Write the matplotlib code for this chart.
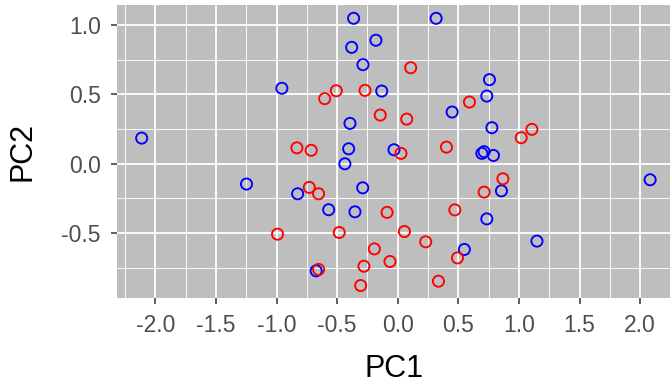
import matplotlib
matplotlib.use("Agg")
import matplotlib.pyplot as plt
from matplotlib.ticker import MultipleLocator, FuncFormatter

# Scores des deux groupes sur les deux premières composantes
pc1_bleu = [-0.364, -0.180, -0.380, -0.287, -0.956, -0.132, -0.394, -2.113, -0.405, -0.436,
            0.317, 0.757, 0.735, 0.449, 0.777, -0.031, 0.694, 0.713, 0.790, 0.856,
            2.083, 0.735, 1.149, 0.550, -1.248, -0.826, -0.289, -0.570, -0.353, -0.673]
pc2_bleu = [1.048, 0.890, 0.839, 0.714, 0.544, 0.524, 0.291, 0.185, 0.108, 0.000,
            1.048, 0.606, 0.488, 0.373, 0.260, 0.101, 0.075, 0.087, 0.060, -0.195,
            -0.115, -0.397, -0.557, -0.617, -0.146, -0.216, -0.173, -0.331, -0.346, -0.771]

pc1_rouge = [-0.507, -0.603, -0.270, -0.144, -0.832, -0.714, 0.107, 0.592, 0.074, 1.107,
             1.019, 0.027, 0.402, 0.868, 0.713, -0.088, 0.471, 0.055, 0.231, -0.193,
             0.493, -0.064, 0.336, -0.730, -0.653, -0.992, -0.483, -0.653, -0.279, -0.306]
pc2_rouge = [0.526, 0.469, 0.529, 0.351, 0.115, 0.097, 0.692, 0.445, 0.322, 0.248,
             0.188, 0.075, 0.120, -0.108, -0.204, -0.350, -0.332, -0.488, -0.562, -0.613,
             -0.678, -0.704, -0.846, -0.170, -0.216, -0.507, -0.495, -0.761, -0.738, -0.877]

plt.rcParams["font.family"] = ["Liberation Sans", "DejaVu Sans"]

fig = plt.figure(figsize=(6.72, 3.86), dpi=100)
ax = fig.add_axes([0.1735, 0.2272, 0.825, 0.7606])
ax.set_facecolor("#bebebe")

ax.scatter(pc1_bleu, pc2_bleu, s=64, facecolors="none", edgecolors="#0000ff", linewidths=1.35, zorder=3)
ax.scatter(pc1_rouge, pc2_rouge, s=64, facecolors="none", edgecolors="#ff0000", linewidths=1.35, zorder=3)

ax.set_xlim(-2.32, 2.255)
ax.set_ylim(-0.969, 1.146)

ax.xaxis.set_major_locator(MultipleLocator(0.5))
ax.xaxis.set_minor_locator(MultipleLocator(0.25))
ax.yaxis.set_major_locator(MultipleLocator(0.5))
ax.yaxis.set_minor_locator(MultipleLocator(0.25))
fmt = FuncFormatter(lambda v, p: f"{v:.1f}" if abs(v) > 1e-9 else "0.0")
ax.xaxis.set_major_formatter(fmt)
ax.yaxis.set_major_formatter(fmt)

ax.grid(which="major", color="white", linewidth=1.3, zorder=1)
ax.grid(which="minor", color="white", linewidth=0.65, zorder=1)
ax.set_axisbelow(True)

ax.tick_params(which="major", length=4.3, width=1.1, color="#333333",
               labelsize=16.5, labelcolor="#4d4d4d", pad=7)
ax.tick_params(which="minor", length=0)

for sp in ax.spines.values():
    sp.set_visible(False)

ax.set_xlabel("PC1", fontsize=22, color="black", labelpad=12)
ax.set_ylabel("PC2", fontsize=22, color="black", labelpad=17)

fig.savefig("out.png", dpi=100, facecolor="white")
